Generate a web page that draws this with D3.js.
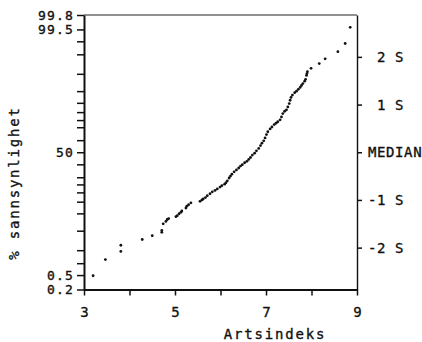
<!DOCTYPE html>
<html>
<head>
<meta charset="utf-8">
<script src="https://cdn.jsdelivr.net/npm/d3@7"></script>
<style>
  body { margin: 0; background: #fff; }
  text { font-family: "DejaVu Sans Mono", "Liberation Mono", monospace; fill: #111; stroke: #111; stroke-width: 0.35px; }
</style>
</head>
<body>
<svg id="chart" width="422" height="342"></svg>
<script>
// Artsindeks value for each point
var artsindeks = [
  3.20, 3.47, 3.81, 3.81, 4.28, 4.50, 4.71, 4.71, 4.74, 4.80,
  4.83, 4.86, 5.02, 5.05, 5.09, 5.13, 5.15, 5.24, 5.26, 5.30,
  5.35, 5.55, 5.59, 5.62, 5.67, 5.71, 5.77, 5.82, 5.88, 5.93,
  5.99, 6.03, 6.09, 6.12, 6.15, 6.19, 6.22, 6.25, 6.30, 6.35,
  6.40, 6.44, 6.48, 6.53, 6.58, 6.62, 6.66, 6.70, 6.75, 6.79,
  6.84, 6.88, 6.91, 6.95, 6.98, 7.01, 7.04, 7.09, 7.13, 7.18,
  7.22, 7.26, 7.31, 7.34, 7.37, 7.41, 7.45, 7.48, 7.51, 7.53,
  7.55, 7.58, 7.63, 7.67, 7.71, 7.75, 7.78, 7.81, 7.85, 7.87,
  7.89, 7.90, 7.91, 7.99, 8.17, 8.30, 8.58, 8.74, 8.85
];
// normal score of each point, in S units (right axis)
var normalScore = [
  -2.59, -2.25, -2.08, -1.95, -1.83, -1.75, -1.68, -1.64, -1.50, -1.45,
  -1.41, -1.39, -1.35, -1.33, -1.29, -1.26, -1.23, -1.17, -1.13, -1.10,
  -1.06, -1.03, -1.00, -0.98, -0.95, -0.91, -0.87, -0.83, -0.80, -0.77,
  -0.73, -0.70, -0.67, -0.64, -0.60, -0.54, -0.50, -0.46, -0.41, -0.37,
  -0.33, -0.29, -0.26, -0.22, -0.19, -0.15, -0.11, -0.06, -0.02, 0.03,
  0.08, 0.14, 0.19, 0.24, 0.30, 0.37, 0.43, 0.49, 0.53, 0.58,
  0.61, 0.64, 0.68, 0.74, 0.81, 0.86, 0.89, 0.95, 1.02, 1.09,
  1.15, 1.20, 1.25, 1.28, 1.32, 1.36, 1.40, 1.44, 1.49, 1.53,
  1.61, 1.65, 1.69, 1.76, 1.86, 1.96, 2.11, 2.28, 2.62
];

var xTicks = [3, 4, 5, 6, 7, 8, 9];
var xLabels = [3, 5, 7, 9];
var pctTicks = [0.2, 0.5, 1, 2, 5, 10, 15, 20, 25, 30, 40, 50, 60, 70, 75, 80, 85, 90, 95, 98, 99, 99.5, 99.8];
var pctLabels = [0.2, 0.5, 50, 99.5, 99.8];
var sTicks = [-2, -1, 0, 1, 2];
var sLabels = ["-2 S", "-1 S", "MEDIAN", " 1 S", " 2 S"];

// inverse of the normal distribution (Acklam)
function probit(p){
  var a = [-3.969683028665376e+01, 2.209460984245205e+02, -2.759285104469687e+02,
           1.383577518672690e+02, -3.066479806614716e+01, 2.506628277459239e+00];
  var b = [-5.447609879822406e+01, 1.615858368580409e+02, -1.556989798598866e+02,
           6.680131188771972e+01, -1.328068155288572e+01];
  var c = [-7.784894002430293e-03, -3.223964580411365e-01, -2.400758277161838e+00,
           -2.549732539343734e+00, 4.374664141464968e+00, 2.938163982698783e+00];
  var d = [7.784695709041462e-03, 3.224671290700398e-01, 2.445134137142996e+00,
           3.754408661907416e+00];
  var q, r;
  if(p < 0.02425){
    q = Math.sqrt(-2 * Math.log(p));
    return (((((c[0]*q+c[1])*q+c[2])*q+c[3])*q+c[4])*q+c[5]) /
           ((((d[0]*q+d[1])*q+d[2])*q+d[3])*q+1);
  }
  if(p > 1 - 0.02425){
    q = Math.sqrt(-2 * Math.log(1 - p));
    return -(((((c[0]*q+c[1])*q+c[2])*q+c[3])*q+c[4])*q+c[5]) /
            ((((d[0]*q+d[1])*q+d[2])*q+d[3])*q+1);
  }
  q = p - 0.5;
  r = q * q;
  return (((((a[0]*r+a[1])*r+a[2])*r+a[3])*r+a[4])*r+a[5])*q /
         (((((b[0]*r+b[1])*r+b[2])*r+b[3])*r+b[4])*r+1);
}

var svg = d3.select("#chart");
var plotL = 84, plotR = 357, plotT = 15, plotB = 289.5;

var x = d3.scaleLinear().domain([3, 9]).range([plotL, plotR]);
var y = d3.scaleLinear()
  .domain([probit(0.002), probit(0.998)])
  .range([plotB, plotT]);

// frame top line (thin)
svg.append("line")
  .attr("x1", plotL).attr("x2", plotR)
  .attr("y1", plotT).attr("y2", plotT)
  .attr("stroke", "#222")
  .attr("stroke-width", 1);

// left axis: % sannsynlighet
var gLeft = svg.append("g")
  .attr("transform", "translate(" + plotL + ",0)")
  .call(d3.axisLeft(y)
    .tickValues(pctTicks.map(function(p){ return probit(p / 100); }))
    .tickFormat(function(d, i){
      return pctLabels.indexOf(pctTicks[i]) >= 0 ? String(pctTicks[i]) : "";
    })
    .tickSize(7)
    .tickSizeOuter(0)
    .tickPadding(3));

// right axis: standard deviations
var gRight = svg.append("g")
  .attr("transform", "translate(" + plotR + ",0)")
  .call(d3.axisRight(y)
    .tickValues(sTicks)
    .tickFormat(function(d, i){ return sLabels[i]; })
    .tickSize(5)
    .tickSizeOuter(0)
    .tickPadding(6));

// bottom axis: Artsindeks
var gBottom = svg.append("g")
  .attr("transform", "translate(0," + plotB + ")")
  .call(d3.axisBottom(x)
    .tickValues(xTicks)
    .tickFormat(function(d){ return xLabels.indexOf(d) >= 0 ? String(d) : ""; })
    .tickSize(6)
    .tickSizeOuter(0)
    .tickPadding(12));

gLeft.select(".domain").attr("stroke", "#111").attr("stroke-width", 2);
gRight.select(".domain").attr("stroke", "#111").attr("stroke-width", 1.4);
gBottom.select(".domain").attr("stroke", "#111").attr("stroke-width", 2);
svg.selectAll(".tick line").attr("stroke", "#111").attr("stroke-width", 1.5);

gLeft.selectAll("text")
  .attr("font-size", 13)
  .style("letter-spacing", "1.2px")
  .attr("font-family", null);
gRight.selectAll("text")
  .attr("font-size", 14)
  .style("letter-spacing", "0.6px")
  .style("white-space", "pre")
  .attr("font-family", null);
gBottom.selectAll("text")
  .attr("font-size", 14)
  .attr("font-family", null);
svg.selectAll(".tick text").attr("fill", "#111");

// axis titles
svg.append("text")
  .attr("x", 275)
  .attr("y", 339)
  .attr("text-anchor", "middle")
  .attr("font-size", 14)
  .style("letter-spacing", "1.8px")
  .text("Artsindeks");

svg.append("text")
  .attr("transform", "translate(19,183) rotate(-90)")
  .attr("text-anchor", "middle")
  .attr("font-size", 14)
  .attr("fill", "#111")
  .style("letter-spacing", "1.8px")
  .text("% sannsynlighet");

// points
svg.append("g")
  .selectAll("circle")
  .data(artsindeks)
  .enter().append("circle")
  .attr("cx", function(d){ return x(d); })
  .attr("cy", function(d, i){ return y(normalScore[i]); })
  .attr("r", 1.4)
  .attr("fill", "#111");
</script>
</body>
</html>
